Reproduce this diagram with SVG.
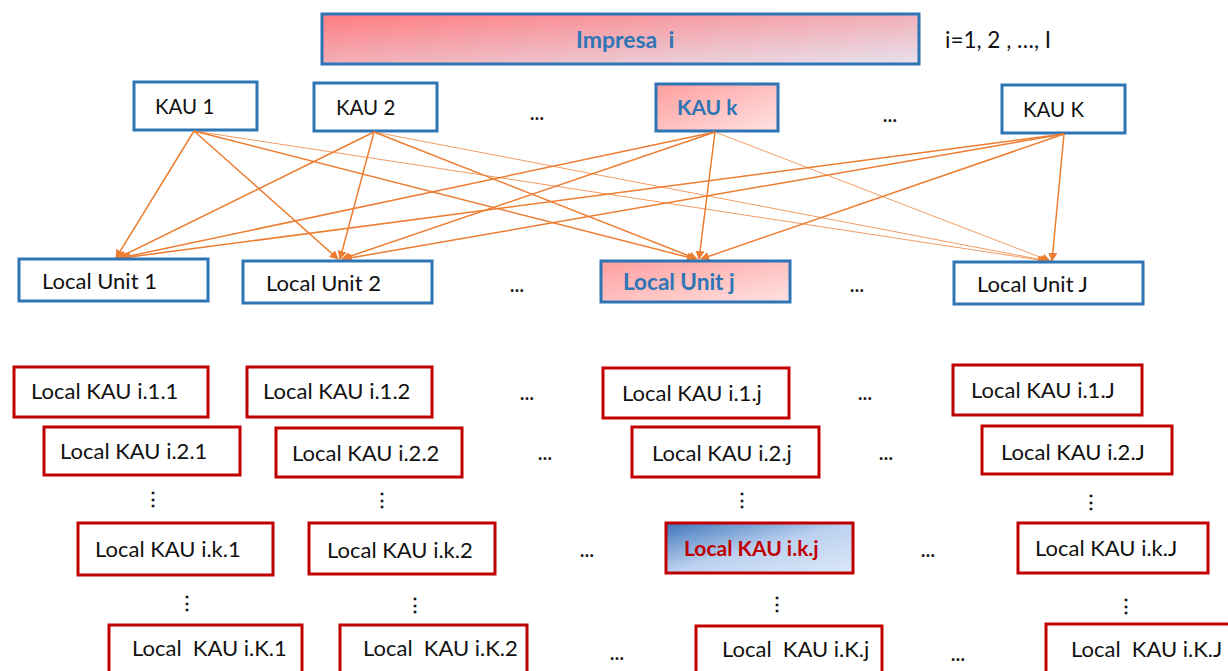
<svg xmlns="http://www.w3.org/2000/svg" width="1228" height="671" viewBox="0 0 1228 671">
<style>
text{font-family:Lato,"Open Sans","Liberation Sans",sans-serif;font-size:22px;fill:#111;white-space:pre}
.k{font-size:20.5px}
.bl{fill:#fff;stroke:#2E75B6;stroke-width:3}
.rd{fill:#fff;stroke:#C00000;stroke-width:3}
.bt{font-weight:bold;fill:#2E75B6}
.rt{font-weight:bold;fill:#C00000;font-size:21px}
.dots{font-weight:bold;font-size:18px}
.c{stroke:#ED7D31;stroke-width:1.5;fill:none;marker-end:url(#ah)}
.t{stroke:#ED7D31;stroke-width:0.9;stroke-opacity:0.85;fill:none;marker-end:url(#ah)}
</style>
<defs>
<linearGradient id="gImp" x1="0" y1="0" x2="1" y2="1">
<stop offset="0" stop-color="#FF7C80"/><stop offset="1" stop-color="#E6E2EE"/>
</linearGradient>
<linearGradient id="gPink" x1="0" y1="0" x2="1" y2="1">
<stop offset="0" stop-color="#FF9E9E"/><stop offset="1" stop-color="#FFE2E2"/>
</linearGradient>
<linearGradient id="gBlue" x1="0" y1="0" x2="1" y2="1">
<stop offset="0" stop-color="#3E74BA"/><stop offset="0.5" stop-color="#BCD2F0"/><stop offset="1" stop-color="#DCE8F8"/>
</linearGradient>
<marker id="ah" viewBox="0 0 10 10" refX="9" refY="5" markerWidth="9" markerHeight="9" markerUnits="userSpaceOnUse" orient="auto">
<path d="M0,0 L10,5 L0,10 z" fill="#ED7D31"/>
</marker>
</defs>

<g id="impresa">
<rect x="322" y="14" width="597" height="50" fill="url(#gImp)" stroke="#2E75B6" stroke-width="3"/>
<text x="576" y="48" class="bt" style="font-size:23px">Impresa  i</text>
</g>
<text x="945" y="48" style="font-size:22.5px">i=1, 2 , …, I</text>

<g id="kau1"><rect class="bl" x="134" y="82" width="123" height="48"/><text x="155" y="114" class="k">KAU 1</text></g>
<g id="kau2"><rect class="bl" x="314" y="83" width="123" height="48"/><text x="336" y="115" class="k">KAU 2</text></g>
<text x="530" y="120" class="dots">…</text>
<g id="kauk"><rect x="656" y="84" width="122" height="47" fill="url(#gPink)" stroke="#2E75B6" stroke-width="3"/><text x="677" y="115" class="bt" style="font-size:21px">KAU k</text></g>
<text x="883" y="122" class="dots">…</text>
<g id="kauK"><rect class="bl" x="1002" y="85" width="123" height="48"/><text x="1023" y="117" class="k">KAU K</text></g>

<g id="connectors">
<line class="c" x1="194" y1="131" x2="116" y2="258"/>
<line class="c" x1="194" y1="131" x2="338" y2="259"/>
<line class="c" x1="194" y1="131" x2="695" y2="259"/>
<line class="t" x1="194" y1="131" x2="1046" y2="261"/>
<line class="c" x1="374" y1="132" x2="118" y2="258"/>
<line class="c" x1="374" y1="132" x2="340" y2="259"/>
<line class="c" x1="374" y1="132" x2="697" y2="259"/>
<line class="t" x1="374" y1="132" x2="1048" y2="261"/>
<line class="c" x1="715" y1="132" x2="120" y2="258"/>
<line class="c" x1="715" y1="132" x2="342" y2="259"/>
<line class="c" x1="715" y1="132" x2="699" y2="259"/>
<line class="t" x1="715" y1="132" x2="1050" y2="261"/>
<line class="c" x1="1064" y1="134" x2="122" y2="258"/>
<line class="c" x1="1064" y1="134" x2="344" y2="259"/>
<line class="c" x1="1064" y1="134" x2="701" y2="259"/>
<line class="c" x1="1064" y1="134" x2="1052" y2="261"/>
</g>

<g id="lu1"><rect class="bl" x="19" y="259" width="189" height="42"/><text x="42" y="289">Local Unit 1</text></g>
<g id="lu2"><rect class="bl" x="243" y="261" width="189" height="42"/><text x="266" y="291">Local Unit 2</text></g>
<text x="510" y="292" class="dots">…</text>
<g id="luj"><rect x="601" y="261" width="189" height="41" fill="url(#gPink)" stroke="#2E75B6" stroke-width="3"/><text x="623" y="290" class="bt" style="font-size:22.5px">Local Unit j</text></g>
<text x="850" y="292" class="dots">…</text>
<g id="luJ"><rect class="bl" x="954" y="262" width="189" height="42"/><text x="977" y="292">Local Unit J</text></g>

<g id="lk11"><rect class="rd" x="14" y="367" width="194" height="50"/><text x="31" y="399">Local KAU i.1.1</text></g>
<g id="lk12"><rect class="rd" x="247" y="367" width="185" height="50"/><text x="263" y="399">Local KAU i.1.2</text></g>
<text x="520" y="400" class="dots">…</text>
<g id="lk1j"><rect class="rd" x="603" y="368" width="186" height="50"/><text x="622" y="401">Local KAU i.1.j</text></g>
<text x="858" y="400" class="dots">…</text>
<g id="lk1J"><rect class="rd" x="953" y="365" width="189" height="50"/><text x="971" y="398">Local KAU i.1.J</text></g>

<g id="lk21"><rect class="rd" x="44" y="427" width="196" height="48"/><text x="60" y="459">Local KAU i.2.1</text></g>
<g id="lk22"><rect class="rd" x="276" y="428" width="186" height="49"/><text x="292" y="461">Local KAU i.2.2</text></g>
<text x="538" y="460" class="dots">…</text>
<g id="lk2j"><rect class="rd" x="632" y="427" width="187" height="50"/><text x="652" y="461">Local KAU i.2.j</text></g>
<text x="879" y="460" class="dots">…</text>
<g id="lk2J"><rect class="rd" x="982" y="426" width="190" height="48"/><text x="1001" y="460">Local KAU i.2.J</text></g>

<text x="153" y="505" class="dots" text-anchor="middle">⋮</text>
<text x="382" y="506" class="dots" text-anchor="middle">⋮</text>
<text x="742" y="506" class="dots" text-anchor="middle">⋮</text>
<text x="1091" y="508" class="dots" text-anchor="middle">⋮</text>

<g id="lkk1"><rect class="rd" x="78" y="523" width="195" height="52"/><text x="95" y="557">Local KAU i.k.1</text></g>
<g id="lkk2"><rect class="rd" x="309" y="523" width="186" height="51"/><text x="327" y="558">Local KAU i.k.2</text></g>
<text x="580" y="557" class="dots">…</text>
<g id="lkkj"><rect x="666" y="523" width="187" height="50" fill="url(#gBlue)" stroke="#C00000" stroke-width="3"/><text x="684" y="556" class="rt">Local KAU i.k.j</text></g>
<text x="921" y="557" class="dots">…</text>
<g id="lkkJ"><rect class="rd" x="1018" y="523" width="190" height="50"/><text x="1035" y="556">Local KAU i.k.J</text></g>

<text x="187" y="609" class="dots" text-anchor="middle">⋮</text>
<text x="415" y="611" class="dots" text-anchor="middle">⋮</text>
<text x="777" y="610" class="dots" text-anchor="middle">⋮</text>
<text x="1126" y="612" class="dots" text-anchor="middle">⋮</text>

<g id="lkK1"><rect class="rd" x="109" y="625" width="193" height="52"/><text x="132" y="656">Local  KAU i.K.1</text></g>
<g id="lkK2"><rect class="rd" x="340" y="625" width="187" height="52"/><text x="363" y="656">Local  KAU i.K.2</text></g>
<text x="610" y="660" class="dots">…</text>
<g id="lkKj"><rect class="rd" x="696" y="626" width="186" height="52"/><text x="722" y="657">Local  KAU i.K.j</text></g>
<text x="951" y="661" class="dots">…</text>
<g id="lkKJ"><rect class="rd" x="1046" y="624" width="190" height="52"/><text x="1071" y="657">Local  KAU i.K.J</text></g>
</svg>
